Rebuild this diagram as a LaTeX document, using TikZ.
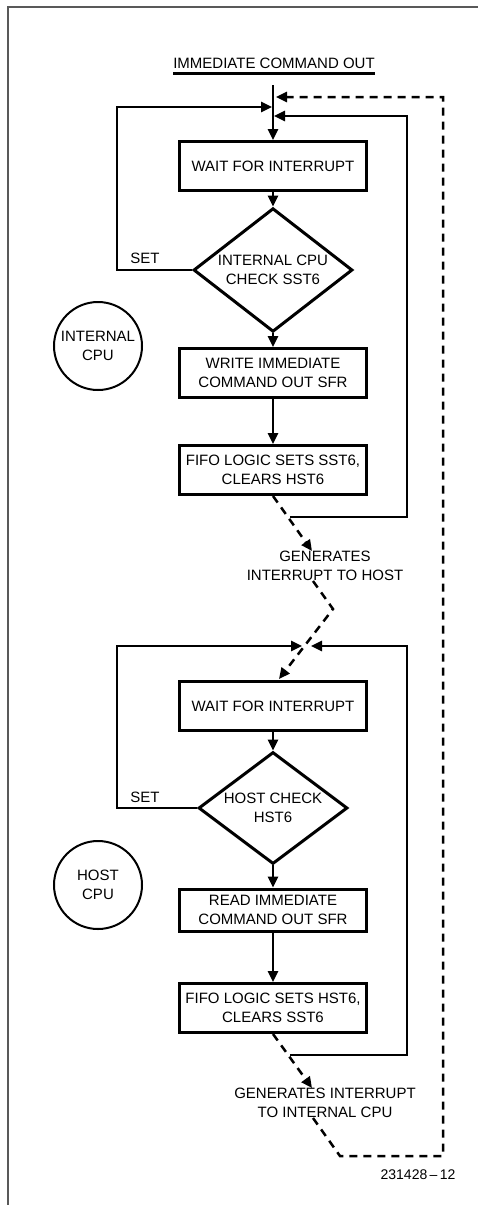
\documentclass[tikz,border=0pt]{standalone}
\usepackage{fontspec}
\setmainfont{Liberation Sans}
\usetikzlibrary{arrows.meta,shapes.geometric}
\begin{document}
\begin{tikzpicture}[x=1pt,y=-1pt,
  every node/.style={font=\fontsize{15}{19}\selectfont, align=center, inner sep=0pt},
  proc/.style={draw, line width=3pt, minimum width=187pt, minimum height=49pt},
  dec/.style={draw, diamond, line width=3pt, inner sep=-4pt},
  cpu/.style={draw, circle, line width=2pt, minimum size=88pt},
  tip/.style={-{Triangle[length=11pt,width=10pt]}},
  conn/.style={line width=2.5pt, tip},
  dsh/.style={line width=2.5pt, dash pattern=on 8pt off 6pt},
  frame/.style={line width=2pt, draw=black!65},
]
\useasboundingbox (0,0) rectangle (478,1205);
% frame
\draw[frame] (8,1205) -- (8,7) -- (478,7);

% title
\node (title) at (274,63) {IMMEDIATE COMMAND OUT};
\draw[line width=2.4pt] ([yshift=-5pt]title.south west) -- ([yshift=-5pt]title.south east);

% internal CPU part
\coordinate (top) at (273,85);
\node[proc] (w1) at (273,166) {WAIT FOR INTERRUPT};
\node[dec, minimum width=159pt, minimum height=92pt] (d1) at (273,270) {INTERNAL CPU\\CHECK SST6};
\node[proc] (wr) at (273,373) {WRITE IMMEDIATE\\COMMAND OUT SFR};
\node[proc] (f1) at (273,470) {FIFO LOGIC SETS SST6,\\CLEARS HST6};
\node[cpu] (c1) at (98,346) {INTERNAL\\CPU};
\node (set1) at (145,258) {SET};

\coordinate (q1) at (276,97);
\coordinate (m1) at (272,107);
\coordinate (r1) at (274,116);
\coordinate (j1) at (290,517);

\draw[conn] (top) -- (w1.north);
\draw[conn] (w1.south) -- (d1.north);
\draw[conn] (d1.south) -- (wr.north);
\draw[conn] (wr.south) -- (f1.north);
\draw[conn] (d1.west) -- (117,270) |- (m1);
\draw[conn] (j1) -- (407,517) |- (r1);

% interrupt to host
\node (g1) at (325,566) {GENERATES\\INTERRUPT TO HOST};
\draw[dsh, tip] (f1.south) -- ([xshift=-13pt]g1.north);

% host CPU part
\node[proc] (w2) at (273,706) {WAIT FOR INTERRUPT};
\node[dec, minimum width=149pt, minimum height=79pt] (d2) at (273,808) {HOST CHECK\\HST6};
\node[proc, minimum height=42pt] (rd) at (273,910) {READ IMMEDIATE\\COMMAND OUT SFR};
\node[proc] (f2) at (273,1008) {FIFO LOGIC SETS HST6,\\CLEARS SST6};
\node[cpu] (c2) at (98,885) {HOST\\CPU};
\node (set2) at (145,797) {SET};

\coordinate (k1) at (333,609);
\coordinate (w2tip) at (279,679);
\coordinate (m2) at (302,646);
\coordinate (m3) at (311,646);
\coordinate (j2) at (290,1055);

\draw[dsh, tip] ([xshift=-12pt]g1.south) -- (k1) -- (w2tip);
\draw[conn] (w2.south) -- (d2.north);
\draw[conn] (d2.south) -- (rd.north);
\draw[conn] (rd.south) -- (f2.north);
\draw[conn] (d2.west) -- (117,808) |- (m2);
\draw[conn] (j2) -- (407,1055) |- (m3);

% interrupt to internal CPU
\node (g2) at (325,1103) {GENERATES INTERRUPT\\TO INTERNAL CPU};
\draw[dsh, tip] (f2.south) -- ([xshift=-13pt]g2.north);
\coordinate (k2) at (340,1156);
\draw[dsh, tip] ([xshift=-12pt]g2.south) -- (k2) -- (443,1156) -- (443,97) -- (q1);

\node[font=\fontsize{14}{16}\selectfont] (num) at (418,1175) {231428\,--\,12};
\end{tikzpicture}
\end{document}
